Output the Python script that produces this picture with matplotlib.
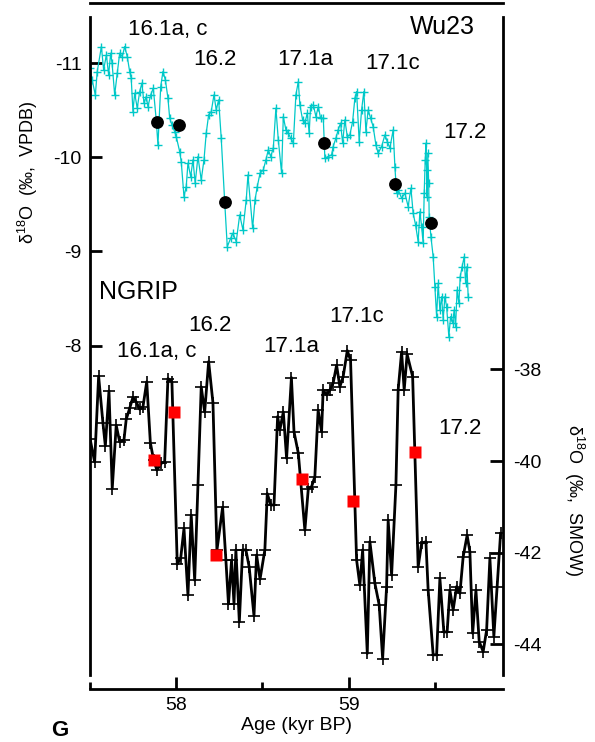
import matplotlib
matplotlib.use("Agg")
import matplotlib.pyplot as plt
from matplotlib.ticker import FixedLocator

plt.rcParams['font.family'] = ['Liberation Sans', 'DejaVu Sans']
plt.rcParams['axes.unicode_minus'] = False
plt.rcParams['mathtext.fontset'] = 'custom'
plt.rcParams['mathtext.rm'] = 'Liberation Sans'
plt.rcParams['mathtext.it'] = 'Liberation Sans:italic'
plt.rcParams['mathtext.bf'] = 'Liberation Sans:bold'

# ---------------- Wu23 speleothem record (left axis) ----------------
wu_age = [57.500, 57.512, 57.531, 57.542, 57.566, 57.579, 57.595, 57.608, 57.620, 57.628,
          57.643, 57.658, 57.672, 57.687, 57.701, 57.716, 57.730, 57.739, 57.749, 57.759,
          57.774, 57.788, 57.801, 57.813, 57.826, 57.836, 57.852, 57.867, 57.884, 57.894,
          57.910, 57.923, 57.937, 57.952, 57.962, 57.975, 57.991, 58.000, 58.020, 58.029,
          58.045, 58.058, 58.068, 58.084, 58.097, 58.110, 58.126, 58.145, 58.161, 58.174,
          58.188, 58.203, 58.219, 58.232, 58.246, 58.261, 58.281, 58.296, 58.316, 58.329,
          58.348, 58.368, 58.387, 58.406, 58.416, 58.443, 58.457, 58.470, 58.486, 58.505,
          58.520, 58.534, 58.548, 58.563, 58.578, 58.592, 58.611, 58.621, 58.636, 58.650,
          58.664, 58.679, 58.694, 58.708, 58.717, 58.733, 58.746, 58.760, 58.771, 58.779,
          58.795, 58.810, 58.824, 58.837, 58.853, 58.862, 58.881, 58.901, 58.910, 58.926,
          58.939, 58.953, 58.965, 58.978, 58.992, 59.007, 59.023, 59.036, 59.046, 59.061,
          59.075, 59.088, 59.100, 59.113, 59.127, 59.142, 59.158, 59.171, 59.191, 59.210,
          59.224, 59.239, 59.258, 59.268, 59.278, 59.287, 59.307, 59.326, 59.345, 59.361,
          59.374, 59.388, 59.403, 59.413, 59.423, 59.432, 59.438, 59.444, 59.448, 59.452,
          59.455, 59.459, 59.464, 59.467, 59.477, 59.490, 59.500, 59.510, 59.519, 59.529,
          59.539, 59.548, 59.558, 59.568, 59.581, 59.591, 59.603, 59.612, 59.620, 59.629,
          59.639, 59.647, 59.658, 59.670, 59.678, 59.686, 59.693]
wu_d18o = [-10.95, -10.823, -10.663, -10.911, -11.176, -10.929, -11.088, -10.876, -11.106, -11.000,
           -10.663, -10.894, -11.106, -11.070, -11.176, -11.070, -10.911, -10.841, -10.486, -10.681,
           -10.522, -10.698, -10.788, -10.575, -10.645, -10.539, -10.663, -10.734, -10.398, -10.132,
           -10.751, -10.911, -10.823, -10.628, -10.416, -10.345, -10.273, -10.220, -10.061, -9.955,
           -9.583, -9.689, -9.938, -9.795, -9.973, -9.725, -10.008, -9.760, -9.973, -10.256,
           -10.451, -10.486, -10.663, -10.504, -10.610, -10.203, -9.530, -9.052, -9.141, -9.194,
           -9.105, -9.388, -9.229, -9.548, -9.813, -9.247, -9.548, -9.689, -9.831, -9.866,
           -9.973, -10.079, -10.008, -10.097, -10.522, -10.185, -9.831, -10.433, -10.291, -10.256,
           -10.203, -10.150, -10.663, -10.805, -10.557, -10.398, -10.363, -10.469, -10.256, -10.539,
           -10.557, -10.433, -10.539, -10.416, -10.416, -9.991, -10.008, -10.026, -10.114, -10.203,
           -10.291, -10.363, -10.150, -10.398, -10.220, -10.238, -10.380, -10.628, -10.698, -10.167,
           -10.504, -10.698, -10.273, -10.504, -10.416, -10.326, -10.132, -10.044, -10.114, -10.238,
           -10.167, -10.097, -10.291, -9.902, -9.619, -9.654, -9.566, -9.619, -9.477, -9.672,
           -9.406, -9.282, -9.105, -9.423, -9.264, -9.088, -9.619, -9.973, -10.150, -9.866,
           -9.583, -10.044, -9.725, -9.370, -9.158, -8.945, -8.627, -8.308, -8.663, -8.379,
           -8.520, -8.273, -8.520, -8.414, -8.095, -8.308, -8.238, -8.379, -8.202, -8.592,
           -8.450, -8.733, -8.839, -8.945, -8.663, -8.839, -8.520]

# transition points on Wu23 (black dots)
wu_tp_age = [57.887, 58.016, 58.281, 58.857, 59.270, 59.477]
wu_tp_d18o = [-10.376, -10.348, -9.527, -10.153, -9.721, -9.300]

# ---------------- NGRIP ice core record (right axis) ----------------
ng_age = [57.500, 57.527, 57.550, 57.575, 57.589, 57.610, 57.629, 57.652, 57.672, 57.697,
          57.710, 57.730, 57.749, 57.768, 57.788, 57.807, 57.829, 57.850, 57.869, 57.888,
          57.913, 57.933, 57.952, 57.975, 58.006, 58.026, 58.045, 58.068, 58.087, 58.107,
          58.126, 58.145, 58.165, 58.188, 58.213, 58.236, 58.269, 58.288, 58.303, 58.321,
          58.335, 58.346, 58.366, 58.385, 58.404, 58.423, 58.451, 58.466, 58.486, 58.514,
          58.528, 58.548, 58.567, 58.588, 58.601, 58.621, 58.640, 58.668, 58.683, 58.708,
          58.746, 58.766, 58.785, 58.804, 58.823, 58.843, 58.852, 58.872, 58.891, 58.910,
          58.930, 58.949, 58.968, 58.992, 59.011, 59.046, 59.065, 59.081, 59.108, 59.123,
          59.152, 59.177, 59.197, 59.220, 59.229, 59.249, 59.274, 59.287, 59.307, 59.322,
          59.339, 59.371, 59.403, 59.423, 59.448, 59.461, 59.490, 59.510, 59.529, 59.552,
          59.571, 59.587, 59.606, 59.626, 59.645, 59.664, 59.687, 59.703, 59.719, 59.738,
          59.757, 59.780, 59.800, 59.819, 59.842, 59.861, 59.881]
ng_d18o = [-39.51, -40.02, -38.15, -39.17, -39.67, -38.47, -40.60, -39.22, -39.58, -39.54,
           -39.09, -38.85, -38.61, -38.71, -38.87, -38.82, -38.27, -39.60, -39.98, -40.20,
           -40.05, -40.02, -38.20, -38.27, -42.25, -42.12, -41.47, -42.93, -41.18, -42.60,
           -40.53, -38.38, -38.93, -37.83, -38.73, -41.95, -41.01, -42.16, -43.12, -42.16,
           -43.12, -41.94, -43.51, -41.94, -41.94, -42.31, -43.38, -42.05, -42.58, -41.94,
           -40.71, -40.96, -40.96, -39.03, -39.32, -38.93, -39.94, -38.18, -39.36, -39.83,
           -41.51, -40.60, -40.56, -40.34, -38.89, -39.36, -38.45, -38.56, -38.45, -38.30,
           -37.91, -38.38, -38.16, -37.59, -37.80, -42.16, -42.71, -41.94, -44.20, -41.76,
           -42.67, -43.14, -44.31, -42.74, -41.29, -42.49, -40.53, -38.45, -37.62, -38.45,
           -37.67, -38.16, -42.31, -41.80, -41.76, -42.82, -44.23, -44.23, -42.56, -43.73,
           -43.73, -42.82, -43.25, -42.74, -42.89, -42.09, -41.62, -41.98, -43.76, -42.82,
           -43.94, -44.16, -43.69, -42.12, -43.83, -42.74, -41.58]

# transition points on NGRIP (red squares)
ng_tp_age = [57.869, 57.985, 58.230, 58.727, 59.023, 59.384]
ng_tp_d18o = [-39.98, -38.93, -42.05, -40.39, -40.87, -39.81]

x_major = [58, 59]
x_minor = [57.5, 58.5, 59.5]
wu_ticks = [-11, -10, -9, -8]
ng_ticks = [-38, -40, -42, -44]

CYAN = '#00C8C8'

W, H = 595, 742
fig = plt.figure(figsize=(W / 100, H / 100), dpi=100)
ax = fig.add_axes([90 / W, 1 - 675 / H, (503 - 90) / W, (675 - 17) / H])
ax2 = ax.twinx()

# Wu23
ax.plot(wu_age, wu_d18o, color=CYAN, lw=0.9, marker='+', ms=6, mew=1.0, zorder=2)
ax.plot(wu_tp_age, wu_tp_d18o, 'o', color='black', ms=8.2, zorder=3)
ax.set_xlim(57.5, 59.895)
ax.set_ylim(-4.502, -11.49)

# NGRIP
ax2.plot(ng_age, ng_d18o, color='black', lw=2.0, marker='+', ms=9, mew=1.2, zorder=2)
ax2.plot(ng_tp_age, ng_tp_d18o, 's', color='red', ms=8.5, mec='none', zorder=3)
ax2.set_ylim(-44.67, -30.31)

# spines
for s in ['left', 'top', 'bottom']:
    ax.spines[s].set_linewidth(2)
ax.spines['right'].set_visible(False)
ax.spines['top'].set_position(('outward', 10))
ax.spines['bottom'].set_position(('outward', 10))
for s in ['left', 'top', 'bottom']:
    ax2.spines[s].set_visible(False)
ax2.spines['right'].set_linewidth(2)

# ticks
ax.xaxis.set_major_locator(FixedLocator(x_major))
ax.xaxis.set_minor_locator(FixedLocator(x_minor))
ax.set_yticks(wu_ticks)
ax.set_yticklabels([str(t) for t in wu_ticks])
ax.tick_params(axis='x', which='major', direction='in', length=8.6, width=2, labelsize=14, pad=6)
ax.tick_params(axis='x', which='minor', direction='in', length=5, width=2)
ax.tick_params(axis='y', direction='in', length=8.4, width=2, labelsize=14, pad=6,
               right=False)
ax2.set_yticks(ng_ticks)
ax2.set_yticklabels([str(t) for t in ng_ticks])
ax2.tick_params(axis='y', direction='in', length=9.4, width=2, labelsize=14, pad=7)

ax.set_xlabel('Age (kyr BP)', fontsize=14, labelpad=2)

fig.text(28 / W, 1 - 172 / H, 'δ$^{18}$O  (‰,  VPDB)', rotation=90, fontsize=13,
         ha='center', va='center')
fig.text(574 / W, 1 - 500 / H, 'δ$^{18}$O  (‰,  SMOW)', rotation=270, fontsize=13,
         ha='center', va='center')

# annotations
lab_kw = dict(fontsize=16, ha='center', va='center')
ax.text(57.949, -11.36, '16.1a, c', **lab_kw)
ax.text(58.225, -11.04, '16.2', **lab_kw)
ax.text(58.746, -11.04, '17.1a', **lab_kw)
ax.text(59.254, -11.00, '17.1c', **lab_kw)
ax.text(59.674, -10.265, '17.2', **lab_kw)
ax.text(59.543, -11.38, 'Wu23', fontsize=18, ha='center', va='center')

ax.text(57.778, -8.566, 'NGRIP', fontsize=18, ha='center', va='center')
ax.text(57.888, -7.933, '16.1a, c', **lab_kw)
ax.text(58.193, -8.209, '16.2', **lab_kw)
ax.text(58.668, -7.986, '17.1a', **lab_kw)
ax.text(59.045, -8.31, '17.1c', **lab_kw)
ax.text(59.645, -7.12, '17.2', **lab_kw)

# panel letter (partly below the image edge in the original; kept fully visible here)
fig.text(51 / W, 1 - 741 / H, 'G', fontsize=16, fontweight='bold', ha='left', va='bottom')

fig.savefig('out.png', dpi=100)
